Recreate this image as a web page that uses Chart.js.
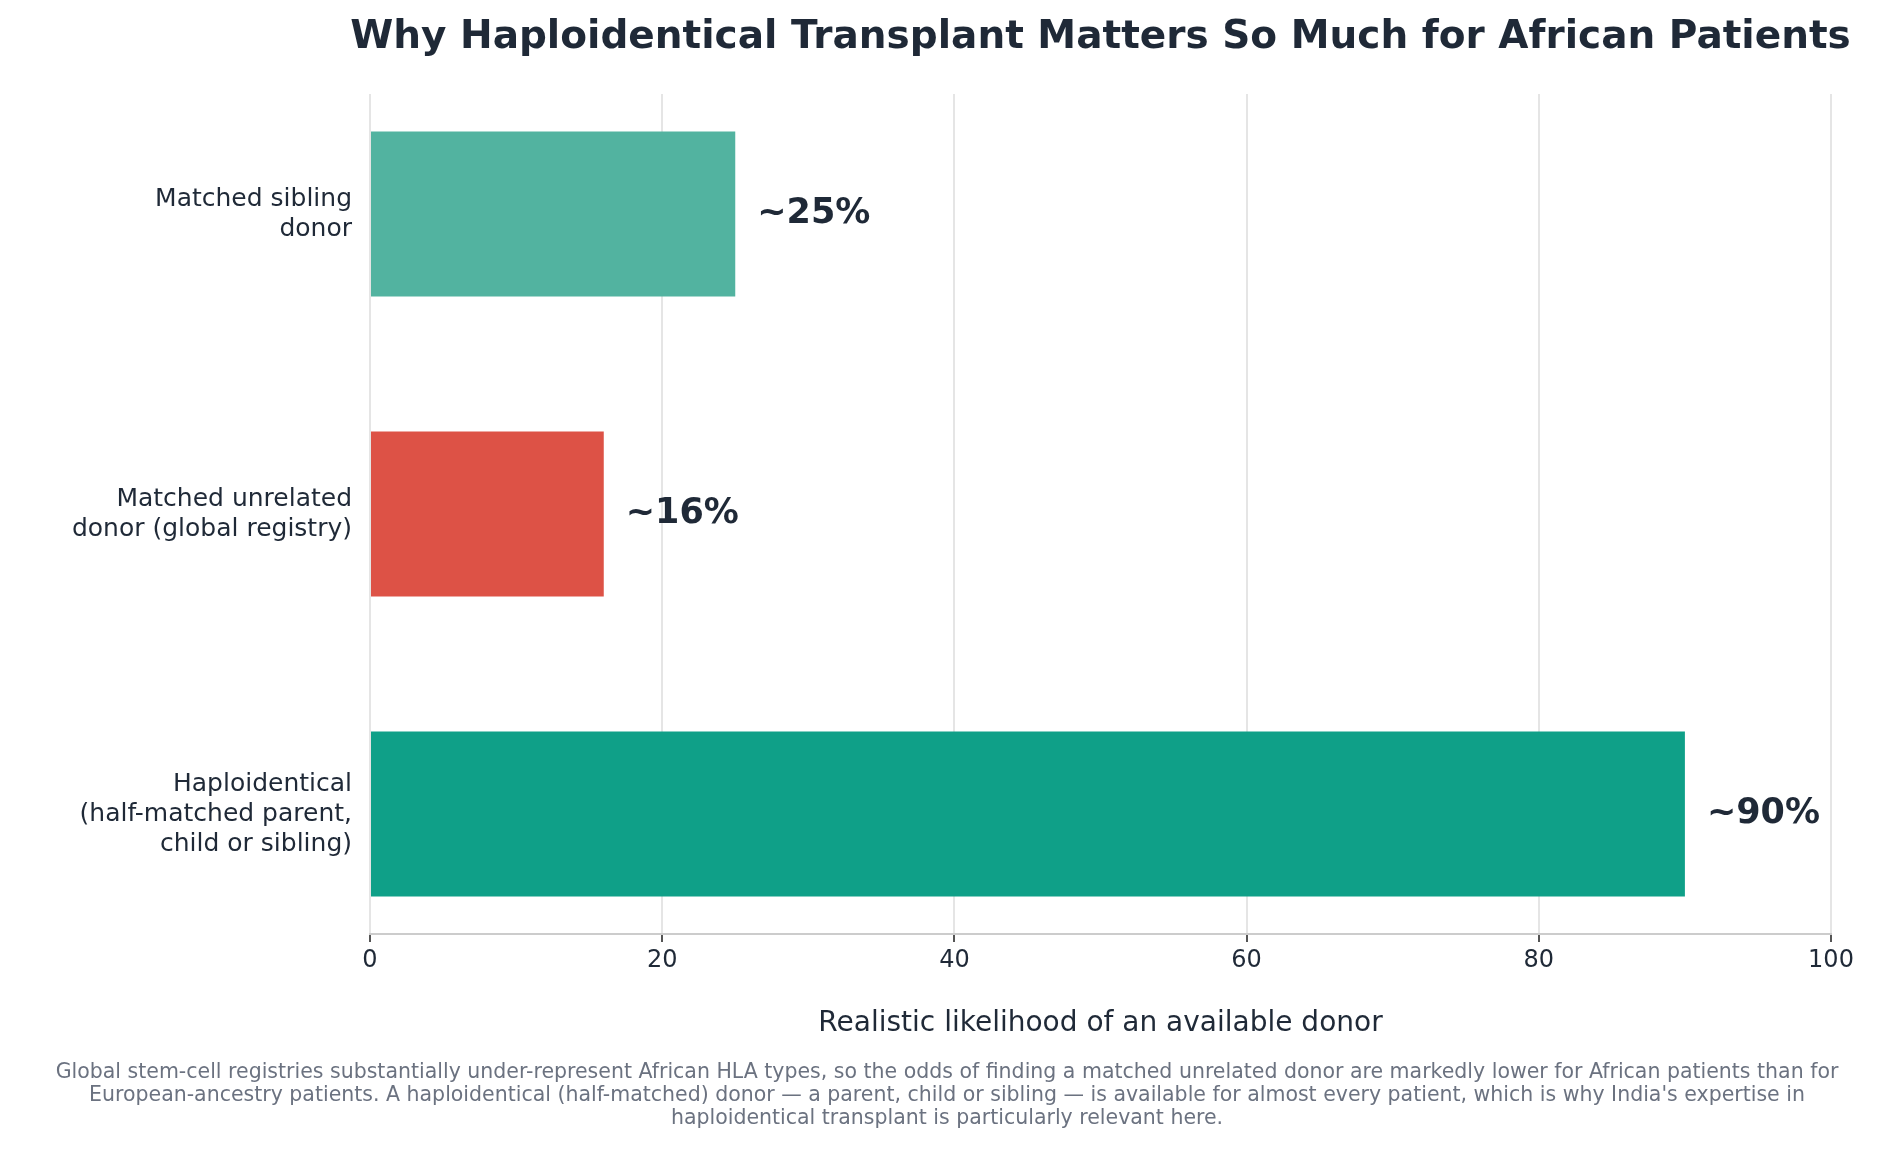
<!DOCTYPE html>
<html>
<head>
<meta charset="utf-8">
<script src="https://cdn.jsdelivr.net/npm/chart.js@4/dist/chart.umd.min.js"></script>
<style>
  html, body { margin: 0; padding: 0; background: #fff; }
</style>
</head>
<body>
<canvas id="donorChart" width="1895" height="1151"></canvas>
<script>
const categories = [
    ['Matched sibling', 'donor'],
    ['Matched unrelated', 'donor (global registry)'],
    ['Haploidentical', '(half-matched parent,', 'child or sibling)']
];
const likelihood = [25, 16, 90];
const valueLabels = ['~25%', '~16%', '~90%'];
const barColors = ['#52b3a0', '#dd5246', '#0fa088'];
const xTicks = [0, 20, 40, 60, 80, 100];

const titleText = 'Why Haploidentical Transplant Matters So Much for African Patients';
const xTitle = 'Realistic likelihood of an available donor';
const footnote = [
    'Global stem-cell registries substantially under-represent African HLA types, so the odds of finding a matched unrelated donor are markedly lower for African patients than for',
    "European-ancestry patients. A haploidentical (half-matched) donor \u2014 a parent, child or sibling \u2014 is available for almost every patient, which is why India's expertise in",
    'haploidentical transplant is particularly relevant here.'
];

const FONT = '"DejaVu Sans", sans-serif';
const dark = '#1f2937';

// draws value labels, title, axis title and footnote
const extras = {
    id: 'extras',
    afterDraw(chart) {
        const ctx = chart.ctx;
        const area = chart.chartArea;
        const x = chart.scales.x, y = chart.scales.y;
        ctx.save();
        ctx.fillStyle = dark;
        ctx.font = 'bold 35px ' + FONT;
        ctx.textBaseline = 'middle';
        ctx.textAlign = 'left';
        likelihood.forEach((v, i) => {
            ctx.fillText(valueLabels[i], x.getPixelForValue(v) + 22, y.getPixelForValue(i));
        });
        const cx = (area.left + area.right) / 2;
        ctx.textAlign = 'center';
        ctx.font = 'bold 39px ' + FONT;
        ctx.fillText(titleText, cx, 38);
        ctx.font = '28px ' + FONT;
        ctx.fillText(xTitle, cx, 1024);
        ctx.fillStyle = '#6b7280';
        ctx.font = '20.5px ' + FONT;
        footnote.forEach((line, i) => ctx.fillText(line, 947, 1073 + i * 23));
        ctx.restore();
    }
};

new Chart(document.getElementById('donorChart'), {
    type: 'bar',
    data: {
        datasets: [{
            data: likelihood.map((v, i) => ({ x: v, y: i })),
            backgroundColor: barColors,
            borderWidth: 0,
            categoryPercentage: 1,
            barPercentage: 0.55
        }]
    },
    options: {
        indexAxis: 'y',
        responsive: false,
        animation: false,
        layout: { padding: { top: 94, right: 64, left: 0, bottom: 0 } },
        plugins: {
            legend: { display: false },
            tooltip: { enabled: false }
        },
        scales: {
            x: {
                type: 'linear',
                min: 0,
                max: 100,
                afterBuildTicks: s => { s.ticks = xTicks.map(v => ({ value: v })); },
                afterFit: s => { s.height = 217; },
                grid: { color: '#e5e5e5', lineWidth: 2, drawTicks: true, tickLength: 8, tickColor: '#555' },
                border: { display: true, color: '#cccccc', width: 2 },
                ticks: { color: dark, font: { size: 24, family: FONT }, padding: 4 }
            },
            y: {
                type: 'linear',
                min: -0.4,
                max: 2.4,
                reverse: true,
                offset: false,
                afterBuildTicks: s => { s.ticks = categories.map((c, i) => ({ value: i })); },
                afterFit: s => { s.width = 370; },
                grid: { display: false },
                border: { display: false },
                ticks: {
                    color: dark,
                    font: { size: 25, family: FONT },
                    padding: 10,
                    crossAlign: 'near',
                    callback: v => categories[v]
                }
            }
        }
    },
    plugins: [extras]
});
</script>
</body>
</html>
